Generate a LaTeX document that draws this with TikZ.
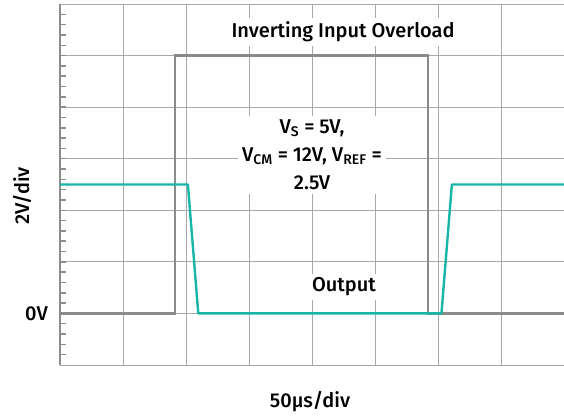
\documentclass[tikz,border=0pt]{standalone}
\usepackage{fontspec}
\setmainfont{Fira Sans}[UprightFont=* Medium]
\usepackage{tikz}

\definecolor{gridgray}{HTML}{A8A8A8}
\definecolor{axisgray}{HTML}{8C8C8C}
\definecolor{tracegray}{HTML}{8A8C8C}
\definecolor{traceteal}{HTML}{17B5A7}

\begin{document}
\begin{tikzpicture}[x=63pt, y=51.57pt,
    grid line/.style={draw=gridgray, line width=0.9pt},
    axis line/.style={draw=axisgray, line width=2pt},
    input trace/.style={draw=tracegray, line width=2.4pt},
    output trace/.style={draw=traceteal, line width=2.4pt, line join=round},
    txt/.style={font=\fontsize{20}{28}\selectfont, inner sep=0pt, text=black},
    box/.style={txt, fill=white, inner sep=4pt}
    ]

    % Canvas
    \useasboundingbox (-60pt,-53pt) rectangle (504pt,365pt);

    % Grid
    \foreach \x in {1,...,7}
        \draw[grid line] (\x,0) -- (\x,7);
    \foreach \y in {0,...,7}
        \draw[grid line] (0,\y) -- (8,\y);

    % Vertical axis with minor ticks
    \draw[axis line] (0,0) -- (0,7);
    \foreach \i in {1,...,34}
        \draw[axis line, line width=1.5pt] (0,\i/5) -- ++(6pt,0);

    % Labels
    \node[box] (title) at (283pt,333pt) {Inverting Input Overload};
    \node[box, align=center] (cond) at (252pt,210pt)
        {V\textsubscript{S} = 5V,\\ V\textsubscript{CM} = 12V, V\textsubscript{REF} =\\ 2.5V};
    \node[box] (out) at (284pt,78pt) {Output};
    \node[txt, anchor=east] (zero) at (-12pt,1) {0V};
    \node[txt, rotate=90] (yscale) at (-38pt,169pt) {2V/div};
    \node[txt] (xscale) at (250pt,-37pt) {50µs/div};

    % Input
    \draw[input trace] (0,1) -- (1.825,1) -- (1.825,6) -- (5.84,6) -- (5.84,1) -- (8,1);

    % Output
    \draw[output trace] (0,3.5) -- (2.03,3.5) -- (2.195,1) -- (6.055,1) -- (6.22,3.5) -- (8,3.5);
\end{tikzpicture}
\end{document}
